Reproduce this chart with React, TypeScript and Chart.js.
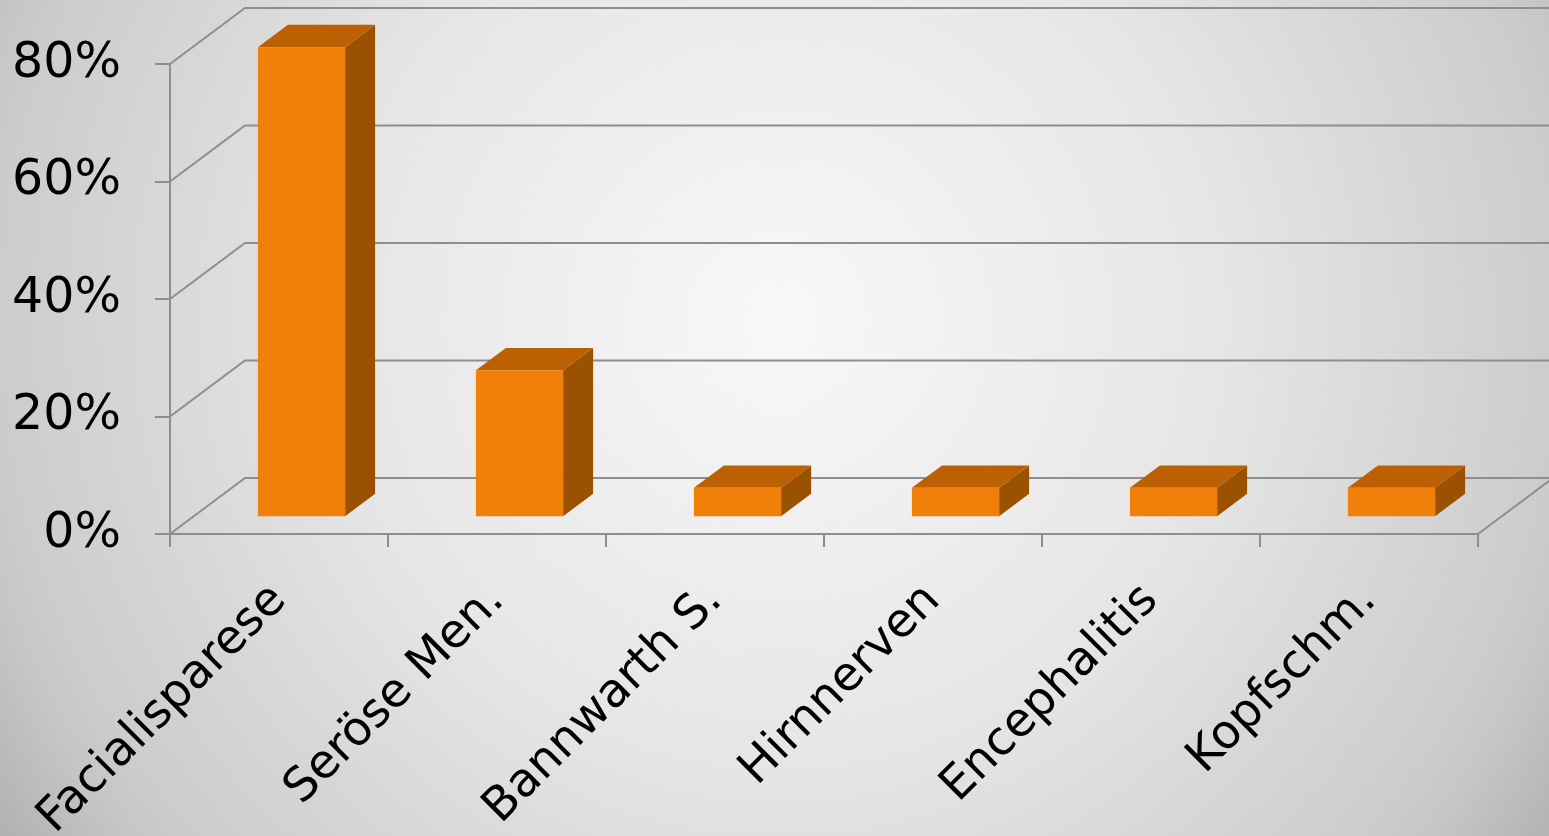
import React, { useEffect, useRef } from "react";
import { Chart, registerables } from "chart.js";

Chart.register(...registerables);

const categories = ["Facialisparese", "Seröse Men.", "Bannwarth S.", "Hirnnerven", "Encephalitis", "Kopfschm."];
const values = [80, 25, 5, 5, 5, 5];
const yTickValues = [0, 20, 40, 60, 80];
const yTickLabels = ["0%", "20%", "40%", "60%", "80%"];

const FRONT = "#F0800A";
const TOP = "#BB6104";
const SIDE = "#9A5200";
const GRID = "#8e8e8e";
const FONT = "'DejaVu Sans', Verdana, sans-serif";

const DX = 75;
const DY = 56;
const BAR_Z0 = 0.3;
const BAR_Z1 = 0.7;

const threeD = {
  id: "threeD",
  beforeDraw(chart: any) {
    const { ctx, width, height } = chart;
    const g = ctx.createRadialGradient(780, 320, 0, 780, 320, 930);
    g.addColorStop(0, "#f8f8f8");
    g.addColorStop(0.47, "#e6e6e6");
    g.addColorStop(0.84, "#cccccc");
    g.addColorStop(0.89, "#c6c6c6");
    g.addColorStop(1, "#b2b2b2");
    ctx.save();
    ctx.fillStyle = g;
    ctx.fillRect(0, 0, width, height);
    ctx.restore();
  },
  beforeDatasetsDraw(chart: any) {
    const { ctx, chartArea, scales } = chart;
    const y = scales.y;
    ctx.save();
    ctx.strokeStyle = GRID;
    ctx.lineWidth = 2;
    y.ticks.forEach((t: any) => {
      const py = y.getPixelForValue(t.value);
      ctx.beginPath();
      ctx.moveTo(chartArea.left, py);
      ctx.lineTo(chartArea.left + DX, py - DY);
      ctx.lineTo(chart.width + 5, py - DY);
      ctx.stroke();
    });
    ctx.beginPath();
    ctx.moveTo(chartArea.right, chartArea.bottom);
    ctx.lineTo(chartArea.right + DX, chartArea.bottom - DY);
    ctx.stroke();
    ctx.restore();
  },
  afterDatasetsDraw(chart: any) {
    const { ctx } = chart;
    const meta = chart.getDatasetMeta(0);
    const ox = DX * BAR_Z0;
    const oy = DY * BAR_Z0;
    const dx = DX * (BAR_Z1 - BAR_Z0);
    const dy = DY * (BAR_Z1 - BAR_Z0);
    ctx.save();
    meta.data.forEach((bar: any) => {
      const { x, y, base, width } = bar.getProps(["x", "y", "base", "width"], true);
      const l = x - width / 2 + ox;
      const r = x + width / 2 + ox;
      const t = y - oy;
      const b = base - oy;
      const poly = (pts: number[][], color: string) => {
        ctx.beginPath();
        ctx.moveTo(pts[0][0], pts[0][1]);
        for (let i = 1; i < pts.length; i++) ctx.lineTo(pts[i][0], pts[i][1]);
        ctx.closePath();
        ctx.fillStyle = color;
        ctx.fill();
      };
      poly([[r, t], [r + dx, t - dy], [r + dx, b - dy], [r, b]], SIDE);
      poly([[l, t], [l + dx, t - dy], [r + dx, t - dy], [r, t]], TOP);
      poly([[l, t], [r, t], [r, b], [l, b]], FRONT);
    });
    ctx.restore();
  },
};

export default function App() {
  const ref = useRef<HTMLCanvasElement | null>(null);
  useEffect(() => {
    document.body.style.margin = "0";
    const chart = new Chart(ref.current as HTMLCanvasElement, {
      type: "bar",
      data: {
        labels: categories,
        datasets: [
          {
            data: values,
            backgroundColor: "rgba(0,0,0,0)",
            borderWidth: 0,
            barPercentage: 0.4,
            categoryPercentage: 1.0,
          },
        ],
      },
      options: {
        responsive: false,
        animation: false,
        devicePixelRatio: 1,
        layout: { padding: { left: 0, top: 64, right: 71, bottom: 0 } },
        plugins: { legend: { display: false }, tooltip: { enabled: false } },
        scales: {
          x: {
            offset: true,
            grid: {
              offset: true,
              drawOnChartArea: false,
              drawTicks: true,
              tickLength: 13,
              color: GRID,
              lineWidth: 2,
            },
            border: { display: true, color: GRID, width: 2 },
            ticks: {
              maxRotation: 45,
              minRotation: 45,
              autoSkip: false,
              color: "#000",
              padding: 26,
              font: { family: FONT, size: 47 },
            },
            afterFit: (s: any) => {
              s.height = 302;
            },
          },
          y: {
            min: yTickValues[0],
            max: yTickValues[yTickValues.length - 1],
            afterBuildTicks: (s: any) => {
              s.ticks = yTickValues.map((v) => ({ value: v }));
            },
            ticks: {
              color: "#000",
              padding: 34,
              font: { family: FONT, size: 49 },
              callback: (v: any) => yTickLabels[yTickValues.indexOf(Number(v))],
            },
            grid: {
              drawOnChartArea: false,
              drawTicks: true,
              tickLength: 15,
              color: GRID,
              lineWidth: 2,
            },
            border: { display: true, color: GRID, width: 2 },
            afterFit: (s: any) => {
              s.width = 170;
            },
          },
        },
      },
      plugins: [threeD],
    } as any);
    return () => chart.destroy();
  }, []);
  return (
    <div style={{ position: "absolute", left: 0, top: 0, width: 1549, height: 836 }}>
      <canvas ref={ref} width={1549} height={836} style={{ display: "block" }} />
    </div>
  );
}
